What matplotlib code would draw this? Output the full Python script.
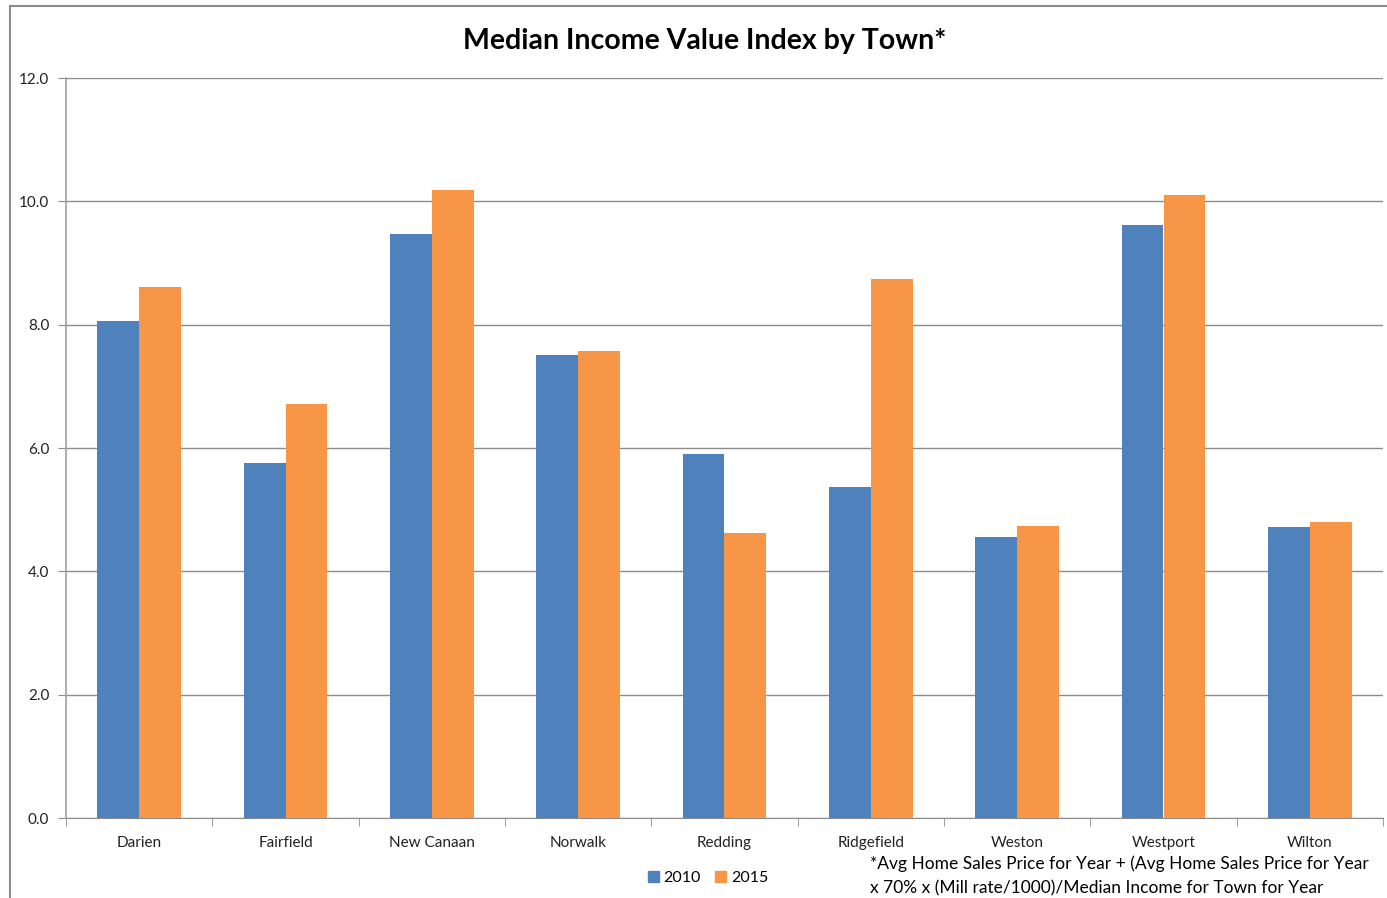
import matplotlib
matplotlib.use("Agg")
import matplotlib.pyplot as plt
import numpy as np
from matplotlib.lines import Line2D
from matplotlib.patches import Patch

plt.rcParams["font.family"] = ["Lato", "DejaVu Sans"]

towns = ["Darien", "Fairfield", "New Canaan", "Norwalk", "Redding",
         "Ridgefield", "Weston", "Westport", "Wilton"]
v2010 = [8.06, 5.76, 9.47, 7.51, 5.90, 5.37, 4.56, 9.62, 4.72]
v2015 = [8.61, 6.71, 10.18, 7.57, 4.62, 8.74, 4.73, 10.10, 4.80]
years = ["2010", "2015"]
yticks = [0, 2, 4, 6, 8, 10, 12]

blue = "#4f81bd"
orange = "#f79646"
grid = "#8c8c8c"

fig = plt.figure(figsize=(13.87, 8.98), dpi=100)
ax = fig.add_axes([66 / 1387, 80 / 898, (1383 - 66) / 1387, (818 - 78) / 898])

x = np.arange(len(towns))
w = 0.285
ax.bar(x - w / 2, v2010, w, color=blue, zorder=3)
ax.bar(x + w / 2, v2015, w, color=orange, zorder=3)

ax.set_xlim(-0.5, len(towns) - 0.5)
ax.set_ylim(0, 12)
ax.set_yticks(yticks)
ax.set_yticklabels([f"{t:.1f}" for t in yticks], fontsize=11, color="#222222")
ax.yaxis.grid(True, color=grid, linewidth=1, zorder=0)

ax.set_xticks(x)
ax.set_xticklabels(towns, fontsize=11, color="#222222")
ax.set_xticks(np.arange(len(towns) + 1) - 0.5, minor=True)
ax.tick_params(axis="x", which="major", length=0, pad=13)
ax.tick_params(axis="x", which="minor", length=6, color=grid, direction="out")
ax.tick_params(axis="y", length=6, color=grid, direction="out", pad=6)

for s in ["top", "right"]:
    ax.spines[s].set_visible(False)
ax.spines["left"].set_color("#a0a0a0")
ax.spines["bottom"].set_color(grid)
ax.spines["left"].set_linewidth(1.2)

fig.text(705 / 1387, 1 - 41 / 898, "Median Income Value Index by Town*",
         ha="center", va="center", fontsize=20.5, fontweight="bold")

handles = [Patch(color=blue), Patch(color=orange)]
fig.legend(handles, years, loc="center", bbox_to_anchor=(708 / 1387, 1 - 878 / 898),
           ncol=2, frameon=False, fontsize=11.5, handlelength=0.7, handleheight=0.7,
           handletextpad=0.3, columnspacing=0.9)

fig.text(870 / 1387, 1 - 864 / 898,
         "*Avg Home Sales Price for Year + (Avg Home Sales Price for Year",
         ha="left", va="center", fontsize=12.5)
fig.text(870 / 1387, 1 - 888 / 898,
         "x 70% x (Mill rate/1000)/Median Income for Town for Year",
         ha="left", va="center", fontsize=12.5)

# outer chart border
fig.add_artist(Line2D([10 / 1387, 10 / 1387], [0, 1 - 6 / 898], transform=fig.transFigure,
                      color="#8c8c8c", linewidth=1.5))
fig.add_artist(Line2D([10 / 1387, 1], [1 - 6 / 898, 1 - 6 / 898], transform=fig.transFigure,
                      color="#8c8c8c", linewidth=1.5))

fig.savefig("out.png", dpi=100, facecolor="white")
